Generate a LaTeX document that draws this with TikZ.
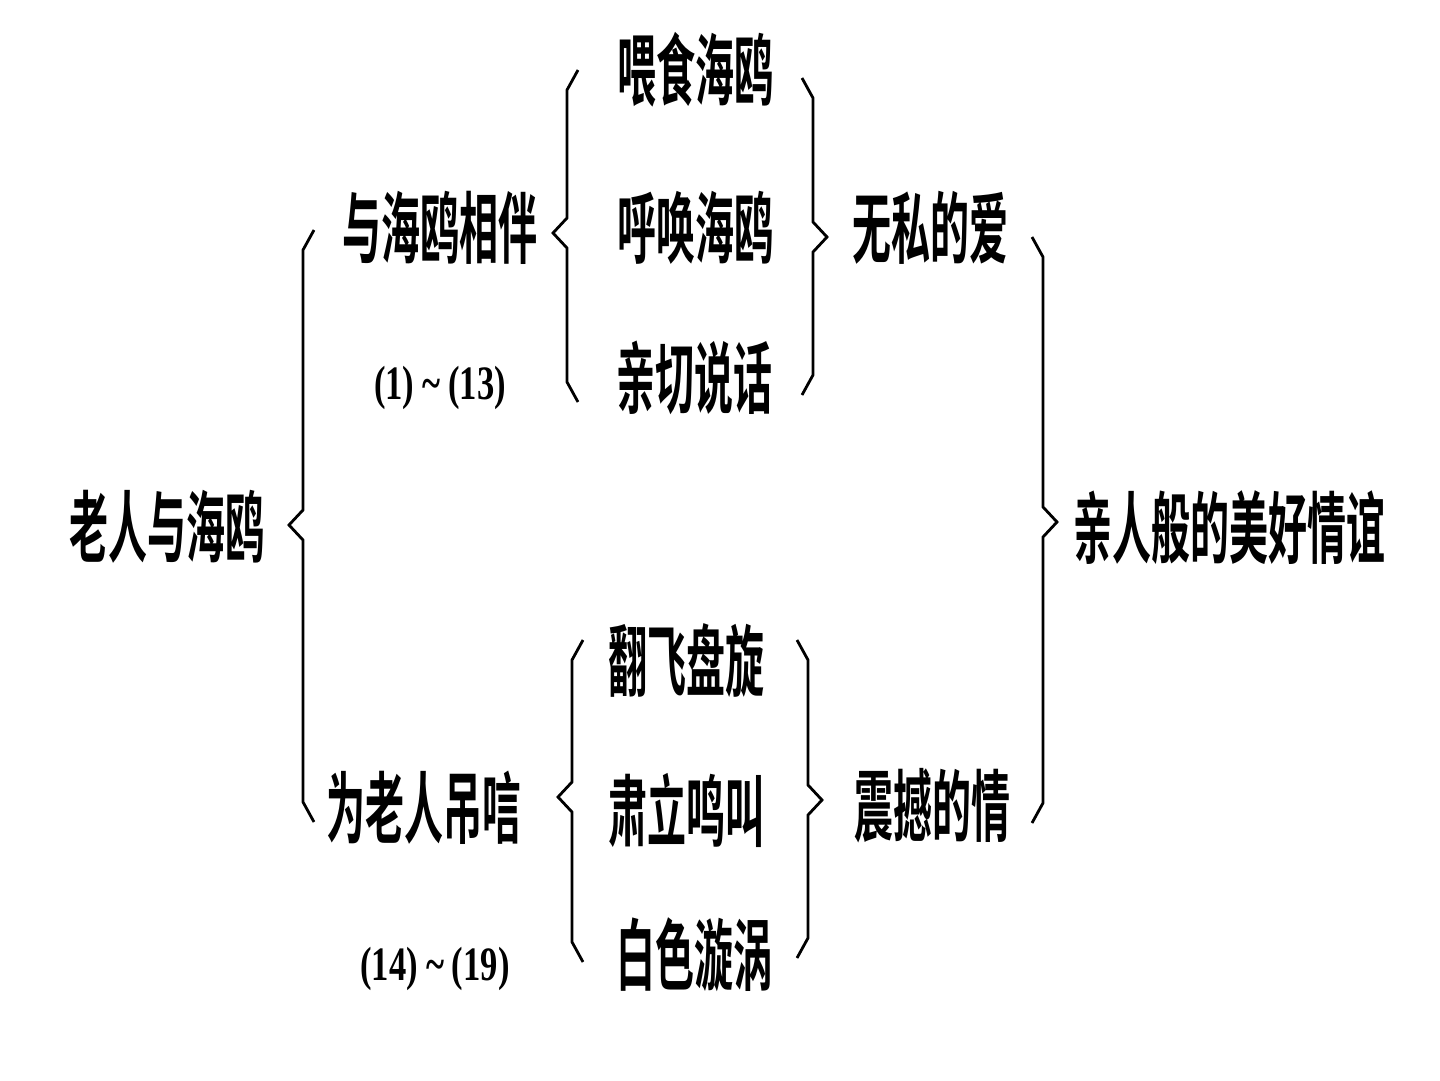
\documentclass[tikz,border=0pt]{standalone}
\usepackage{fontspec}
\newfontfamily\cjk[FakeStretch=0.5]{Noto Sans CJK SC Bold}
\newfontfamily\numfont[FakeStretch=0.72]{Liberation Serif}

\tikzset{
  lbl/.style={font={\cjk\fontsize{78}{80}\selectfont}, inner sep=0pt},
  num/.style={font={\numfont\bfseries\fontsize{48}{50}\selectfont}, inner sep=0pt},
  brace/.style={line width=2.8pt, line join=miter}
}

\begin{document}
\begin{tikzpicture}[x=1pt, y=-1pt]
  \useasboundingbox (0,0) rectangle (1440,1080);

  % main line
  \node[lbl] (root) at (167,527) {老人与海鸥};
  \node[lbl] (bond) at (1229,528) {亲人般的美好情谊};

  % upper branch
  \node[lbl] (accomp) at (440,228) {与海鸥相伴};
  \node[num] (rangeA) at (440,388) {(1)\,\textasciitilde\,(13)};
  \node[lbl] (feed) at (695,70) {喂食海鸥};
  \node[lbl] (call) at (695,228) {呼唤海鸥};
  \node[lbl] (talk) at (694,378) {亲切说话};
  \node[lbl] (love) at (930,228) {无私的爱};

  % lower branch
  \node[lbl] (mourn) at (424,808) {为老人吊唁};
  \node[num] (rangeB) at (435,969) {(14)\,\textasciitilde\,(19)};
  \node[lbl] (circle) at (686,660) {翻飞盘旋};
  \node[lbl] (stand) at (686,810) {肃立鸣叫};
  \node[lbl] (swirl) at (694,955) {白色漩涡};
  \node[lbl] (shock) at (932,806) {震撼的情};

  % braces: x / top / tip / bottom / side (1 opens right, -1 opens left)
  \foreach \x/\top/\tip/\bot/\s in {%
      303/230/525/822/1,
      567/70/233/402/1,
      572/640/797/962/1,
      813/78/237/395/-1,
      808/640/800/958/-1,
      1043/237/522/823/-1}%
  {
    \draw[brace] ({\x+\s*11},\top) -- (\x,{\top+20}) -- (\x,{\tip-15})
      -- ({\x-\s*14},\tip) -- (\x,{\tip+15}) -- (\x,{\bot-20}) -- ({\x+\s*11},\bot);
  };
\end{tikzpicture}
\end{document}
